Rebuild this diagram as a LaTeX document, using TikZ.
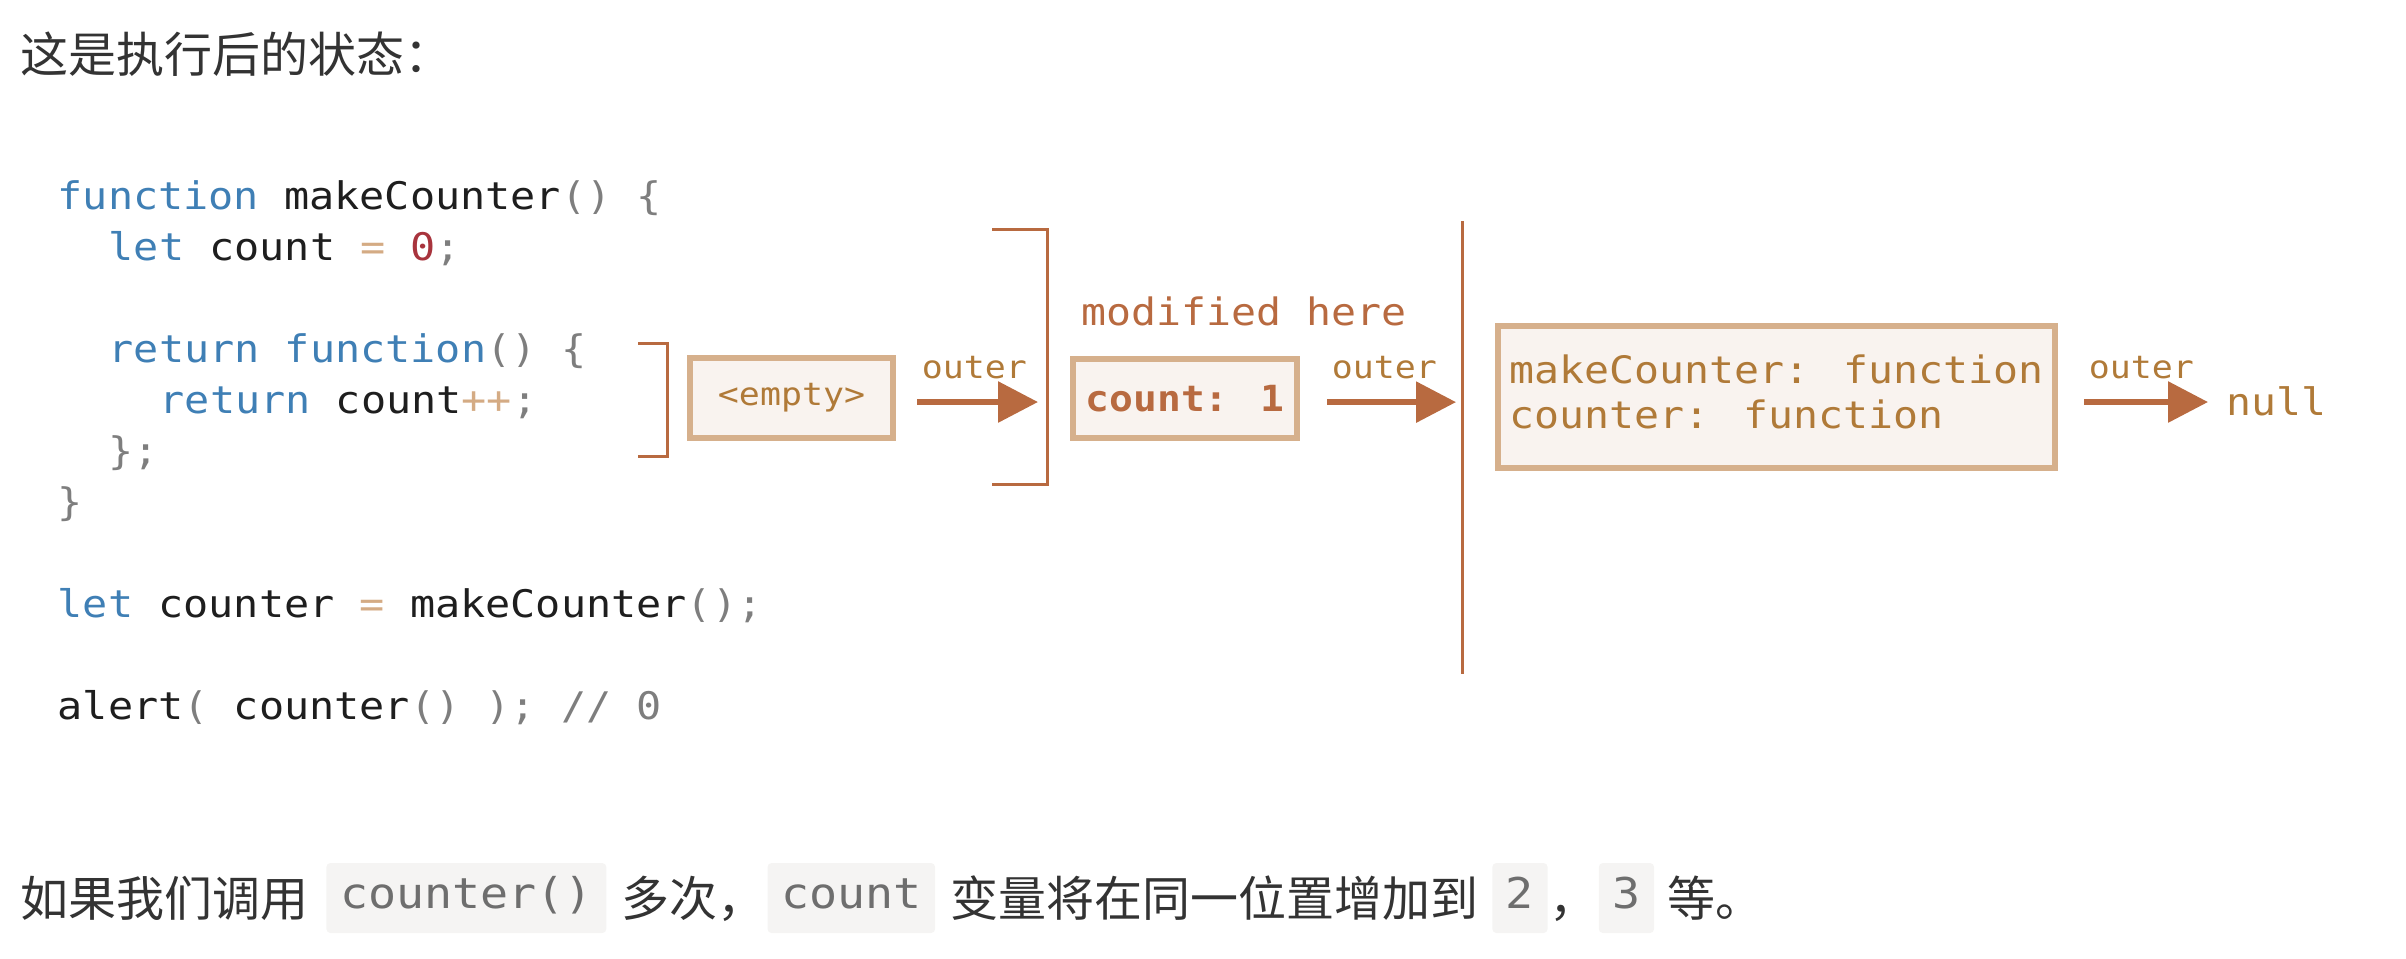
\documentclass[tikz,border=0pt]{standalone}
\usepackage{fontspec}
\usetikzlibrary{arrows.meta,positioning}
\newfontfamily\codefont[FakeStretch=1.1]{DejaVu Sans Mono}
\newfontfamily\cjk{Noto Sans CJK SC}
\definecolor{ink}{HTML}{333333}
\definecolor{kwblue}{HTML}{3F7FB5}
\definecolor{idblack}{HTML}{1E1E1E}
\definecolor{punct}{HTML}{7E7E7E}
\definecolor{optan}{HTML}{D4AB84}
\definecolor{numred}{HTML}{A8343D}
\definecolor{rust}{HTML}{B86A40}
\definecolor{gold}{HTML}{B07A38}
\definecolor{boxborder}{HTML}{D6B08C}
\definecolor{boxfill}{HTML}{F9F3EF}
\definecolor{codebg}{HTML}{F5F4F3}
\definecolor{codegray}{HTML}{6E6E6E}
\newcommand\ckw[1]{\textcolor{kwblue}{#1}}
\newcommand\cpu[1]{\textcolor{punct}{#1}}
\newcommand\cop[1]{\textcolor{optan}{#1}}
\newcommand\cnum[1]{\textcolor{numred}{#1}}
\tikzstyle{codeline}=[anchor=base west, inner sep=0pt, text=idblack,
  font=\codefont\fontsize{9.5}{12}\selectfont]
\tikzstyle{memory}=[draw=boxborder, fill=boxfill, line width=1.5pt, inner sep=0pt,
  text=gold, font=\codefont\fontsize{9.44}{11.25}\selectfont]
\tikzstyle{lbl}=[anchor=base west, inner sep=0pt, text=gold,
  font=\codefont\fontsize{7.93}{9}\selectfont]
\tikzstyle{arr}=[draw=rust, line width=1.5pt, -{Triangle[length=10pt,width=10pt]}]
\tikzstyle{bracket}=[draw=rust, line width=0.75pt]
\tikzstyle{cjktext}=[anchor=base west, inner sep=0pt, text=ink,
  font=\cjk\fontsize{12}{14}\selectfont]
\tikzstyle{inlinecode}=[anchor=base west, fill=codebg, rounded corners=1pt, text=codegray,
  inner xsep=3.4pt, inner ysep=0pt, text height=11.25pt, text depth=6.25pt,
  font=\codefont\fontsize{10.6}{12}\selectfont]
\begin{document}
\begin{tikzpicture}[x=0.25pt,y=-0.25pt]
  \useasboundingbox (0,0) rectangle (2406,958);
  \node[cjktext] (title) at (20,72) {这是执行后的状态：};

  % the code
  \node[codeline] (l1) at (57,209) {\ckw{function} makeCounter\cpu{() \{}};
  \node[codeline] (l2) at (108,260) {\ckw{let} count \cop{=} \cnum{0}\cpu{;}};
  \node[codeline] (l4) at (108,362) {\ckw{return} \ckw{function}\cpu{() \{}};
  \node[codeline] (l5) at (159,413) {\ckw{return} count\cop{++}\cpu{;}};
  \node[codeline] (l6) at (108,464) {\cpu{\};}};
  \node[codeline] (l7) at (57,515) {\cpu{\}}};
  \node[codeline] (l9) at (57,617) {\ckw{let} counter \cop{=} makeCounter\cpu{();}};
  \node[codeline] (l11) at (57,719) {alert\cpu{( }counter\cpu{() ); // 0}};

  % lexical environments
  \node[memory, minimum width=50.75pt, minimum height=20pt,
        font=\codefont\fontsize{7.93}{9}\selectfont] (empty) at (791.5,398) {<empty>};
  \node[memory, minimum width=56pt, minimum height=19.75pt, text=rust,
        font=\codefont\fontsize{9}{11}\selectfont] (count) at (1185,398.5)
       {\bfseries count: 1};
  \node[memory, minimum width=139.25pt, minimum height=35.5pt, align=left] (scope) at (1776.5,397)
       {makeCounter: function\\counter: function\rule[-2.5pt]{0pt}{0pt}};
  \node[lbl, text=rust, font=\codefont\fontsize{9.44}{11}\selectfont] (modified)
       at ([xshift=2.75pt,yshift=7.75pt]count.north west) {modified here};
  \node[lbl, font=\codefont\fontsize{9.44}{11}\selectfont] (null)
       at ([xshift=42pt,yshift=-4.5pt]scope.east) {null};

  % brackets
  \draw[bracket] (638,343) -| (667,456) -- (638,456);
  \coordinate (outerTop) at (1047,229);
  \coordinate (globalTop) at (1462,221);
  \coordinate (globalBottom) at (1462,674);
  \draw[bracket] (992,229) -- (outerTop) -- (1047,484) -- (992,484);
  \draw[bracket] (globalTop) -- (globalBottom);

  % outer references
  \draw[arr, shorten <=5.25pt, shorten >=2.25pt] ([yshift=-1pt]empty.east) -- ([yshift=-1pt]empty.east -| outerTop);
  \draw[arr, shorten <=6.75pt, shorten >=1.5pt] ([yshift=-0.9pt]count.east) -- ([yshift=-0.9pt]count.east -| globalTop);
  \draw[arr, shorten <=6.5pt, shorten >=4.5pt] ([yshift=-1.25pt]scope.east) -- ([yshift=-1.25pt]scope.east -| null.west);
  \node[lbl] (o1) at ([xshift=6.25pt,yshift=5pt]empty.east) {outer};
  \node[lbl] (o2) at ([xshift=7.75pt,yshift=5.1pt]count.east) {outer};
  \node[lbl] (o3) at ([xshift=7.5pt,yshift=4.75pt]scope.east) {outer};

  % the line below
  \node[cjktext] (p1) at (20,916) {如果我们调用};
  \node[inlinecode] (c1) at ([xshift=4pt,yshift=2pt]p1.base east) {counter()};
  \node[cjktext] (p2) at ([xshift=3.5pt,yshift=-2pt]c1.base east) {多次，};
  \node[inlinecode] (c2) at ([xshift=0pt,yshift=2pt]p2.base east) {count};
  \node[cjktext] (p3) at ([xshift=3.5pt,yshift=-2pt]c2.base east) {变量将在同一位置增加到};
  \node[inlinecode] (c3) at ([xshift=3pt,yshift=2pt]p3.base east) {2};
  \node[cjktext] (p4) at ([yshift=-2pt]c3.base east) {，};
  \node[inlinecode] (c4) at ([yshift=2pt]p4.base east) {3};
  \node[cjktext] (p5) at ([xshift=3pt,yshift=-2pt]c4.base east) {等。};
\end{tikzpicture}
\end{document}
